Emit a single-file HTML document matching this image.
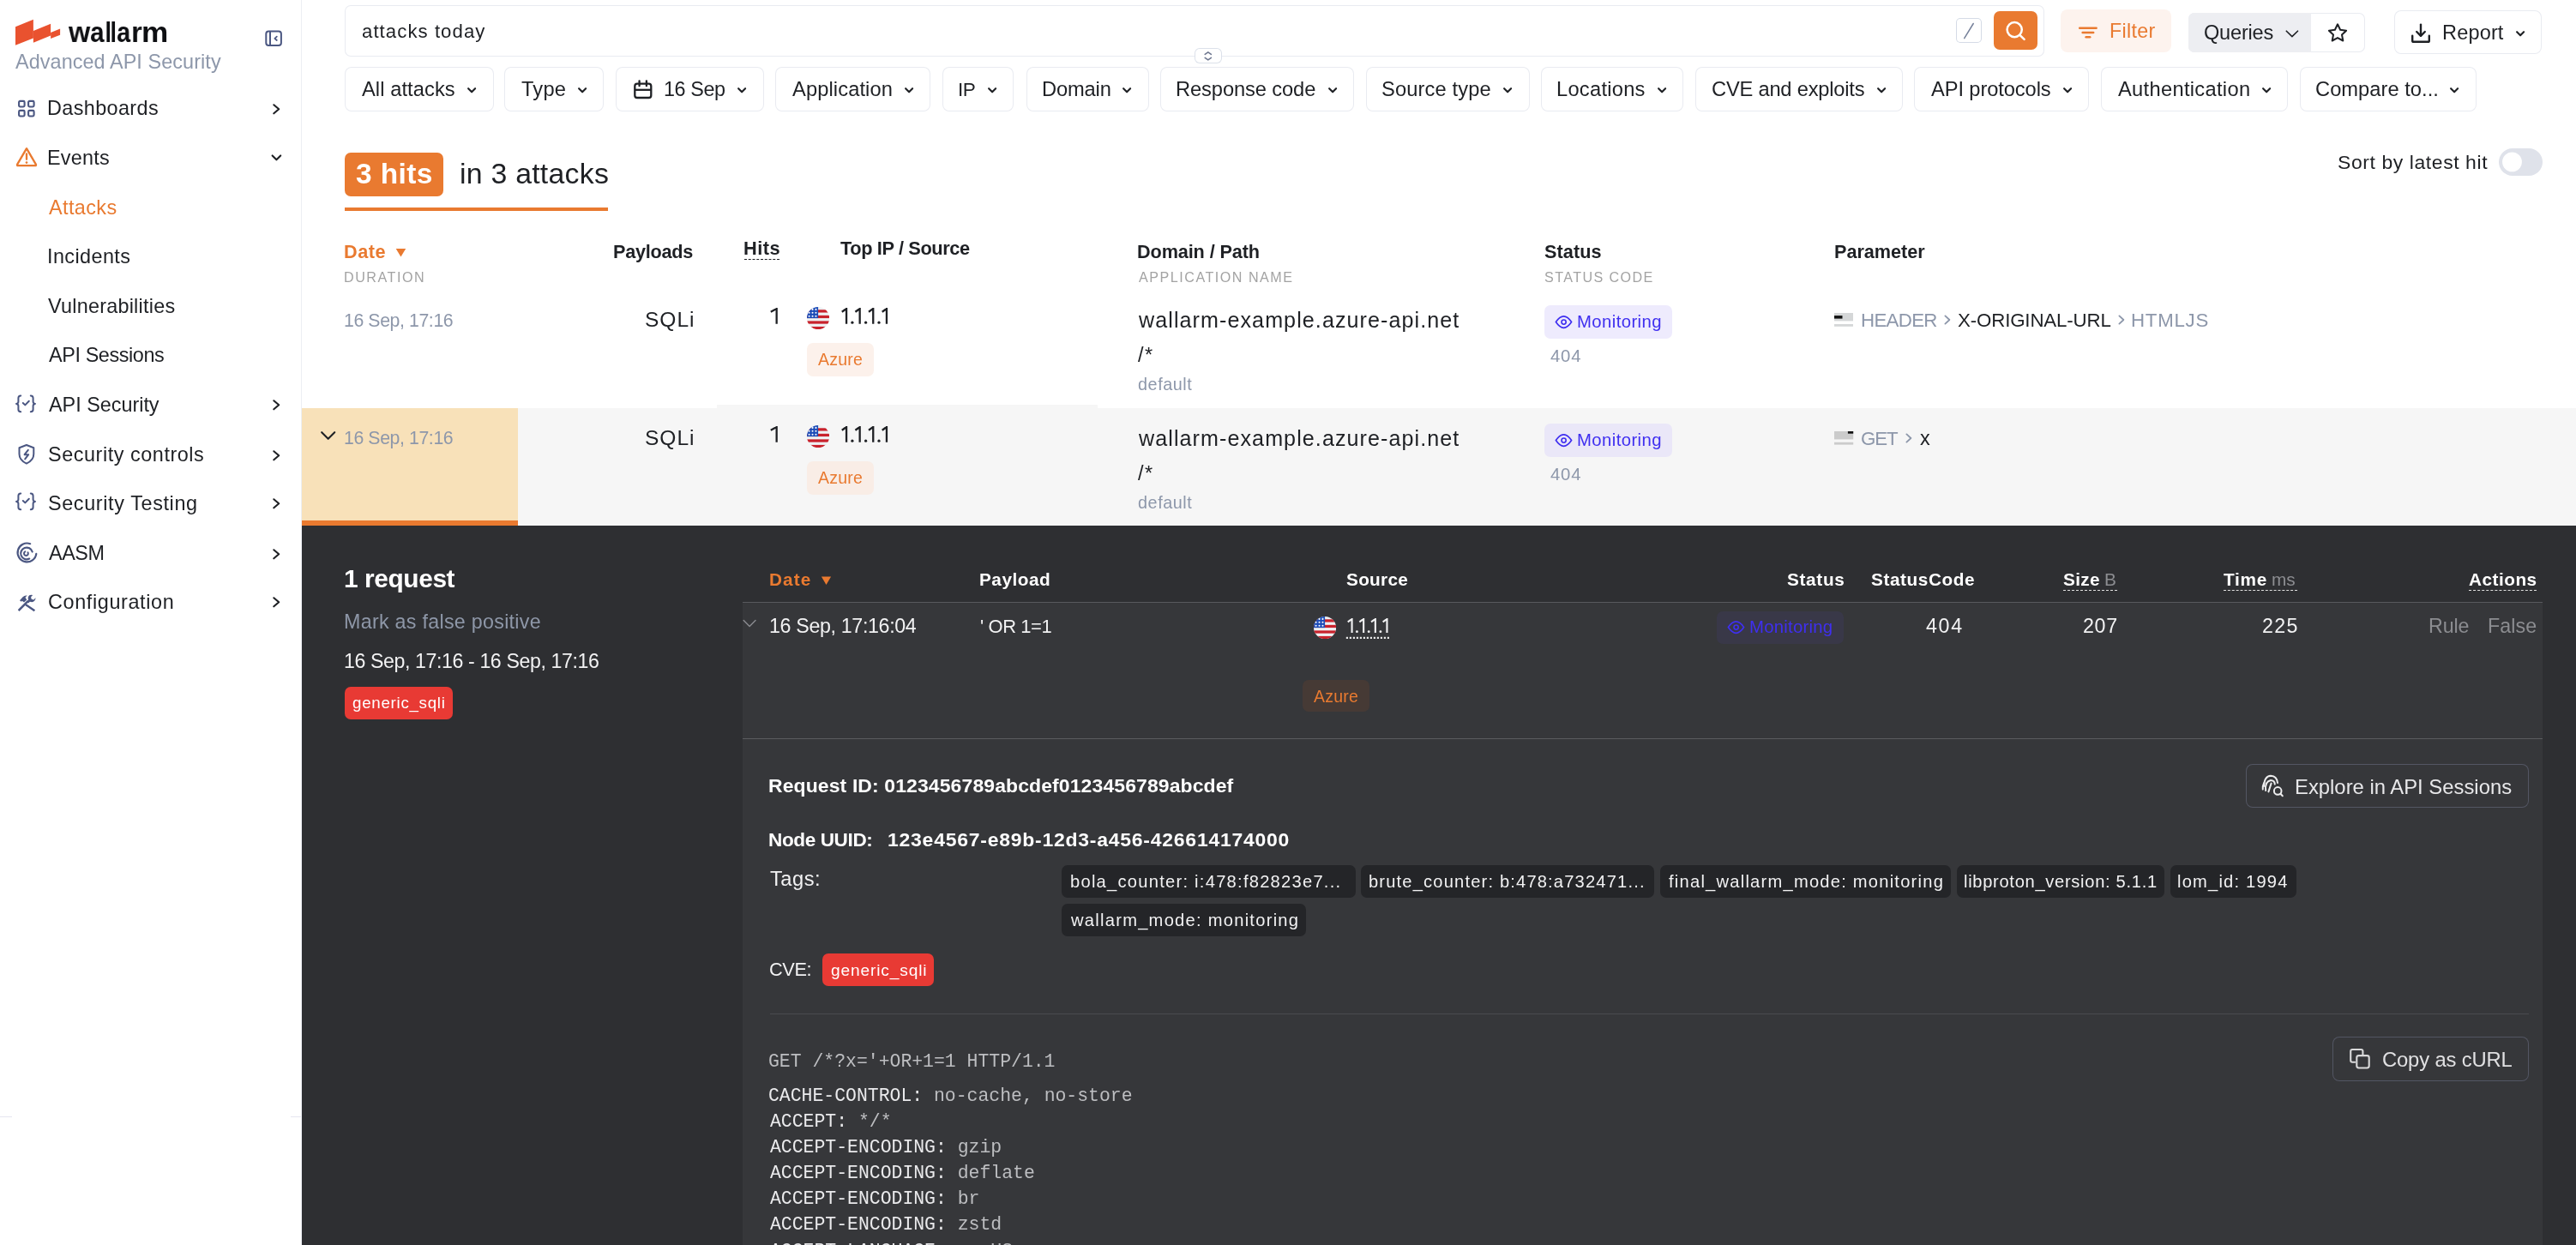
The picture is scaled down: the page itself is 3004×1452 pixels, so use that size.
<!DOCTYPE html>
<html><head><meta charset="utf-8"><style>
html,body{margin:0;padding:0;}
body{width:3004px;height:1452px;overflow:hidden;position:relative;background:#fff;font-family:"Liberation Sans",sans-serif;}
.a{position:absolute;}
.t{position:absolute;white-space:pre;will-change:transform;}
</style></head><body>
<div class="a" style="left:351.00px;top:0.00px;width:1.00px;height:1452.00px;background:#ECEEF3;"></div>
<div class="a" style="left:0.00px;top:1302.00px;width:14.00px;height:1.00px;background:#E6E6F0;"></div>
<div class="a" style="left:339.00px;top:1302.00px;width:12.00px;height:1.00px;background:#E6E6F0;"></div>
<svg class="a" style="left:0px;top:0px;" width="80" height="60" viewBox="0 0 80 60" fill="none"><polygon fill="#E9522F" points="18,31.2 38.9,22.85 38.9,44.4 18,52.7"/><polygon fill="#E9522F" points="38.9,36 59.1,27.7 59.1,41.5 38.9,49.8"/><polygon fill="#E9522F" points="59.1,37.9 70.1,33.4 70.1,40.8 59.1,45"/></svg>
<div class="t" style="left:80.41px;top:18px;font-size:34.000px;line-height:38px;color:#0E0F12;transform:scaleX(0.9537);transform-origin:-0.11px 0;font-weight:700;">w</div>
<div class="t" style="left:105.08px;top:18px;font-size:34.000px;line-height:38px;color:#0E0F12;transform:scaleX(0.8658);transform-origin:1.02px 0;font-weight:700;">a</div>
<div class="t" style="left:121.92px;top:18px;font-size:34.000px;line-height:38px;color:#0E0F12;transform:scaleX(0.7747);transform-origin:2.38px 0;font-weight:700;">l</div>
<div class="t" style="left:128.42px;top:18px;font-size:34.000px;line-height:38px;color:#0E0F12;transform:scaleX(0.7963);transform-origin:2.38px 0;font-weight:700;">l</div>
<div class="t" style="left:135.88px;top:18px;font-size:34.000px;line-height:38px;color:#0E0F12;transform:scaleX(0.8437);transform-origin:1.02px 0;font-weight:700;">a</div>
<div class="t" style="left:152.83px;top:18px;font-size:34.000px;line-height:38px;color:#0E0F12;transform:scaleX(0.9495);transform-origin:2.27px 0;font-weight:700;">r</div>
<div class="t" style="left:164.93px;top:18px;font-size:34.000px;line-height:38px;color:#0E0F12;transform:scaleX(1.0333);transform-origin:2.27px 0;font-weight:700;">m</div>
<div class="t" style="left:18.12px;top:59px;font-size:23.401px;line-height:26px;color:#8D97AA;letter-spacing:0.084px;">Advanced API Security</div>
<svg class="a" style="left:308px;top:34px;" width="22" height="22" viewBox="0 0 22 22" fill="none"><rect x="2.3" y="2.4" width="17.6" height="16.6" rx="3" stroke="#4B5782" stroke-width="2"/><line x1="7" y1="2.4" x2="7" y2="19" stroke="#4B5782" stroke-width="2"/><polyline points="14.8,8.6 12.4,10.8 14.8,13" stroke="#4B5782" stroke-width="1.8" fill="none" stroke-linecap="round" stroke-linejoin="round"/></svg>
<div class="t" style="left:55.35px;top:113px;font-size:23.401px;line-height:26px;color:#1E2024;letter-spacing:0.389px;">Dashboards</div>
<div class="t" style="left:57.22px;top:459px;font-size:23.401px;line-height:26px;color:#1E2024;letter-spacing:-0.012px;">API Security</div>
<div class="t" style="left:56.21px;top:517px;font-size:23.401px;line-height:26px;color:#1E2024;letter-spacing:0.557px;">Security controls</div>
<div class="t" style="left:56.21px;top:574px;font-size:23.401px;line-height:26px;color:#1E2024;letter-spacing:0.627px;">Security Testing</div>
<div class="t" style="left:57.22px;top:632px;font-size:23.374px;line-height:26px;color:#1E2024;letter-spacing:-0.400px;">AASM</div>
<div class="t" style="left:56.13px;top:689px;font-size:23.401px;line-height:26px;color:#1E2024;letter-spacing:0.633px;">Configuration</div>
<div class="t" style="left:55.35px;top:171px;font-size:23.401px;line-height:26px;color:#1E2024;letter-spacing:0.230px;">Events</div>
<svg class="a" style="left:316px;top:120px;" width="12" height="14" viewBox="0 0 12 14" fill="none"><polyline points="3.3,2.3 9.2,7.3 3.3,12.3" stroke="#1E2024" stroke-width="2.1" fill="none" stroke-linecap="round" stroke-linejoin="round"/></svg>
<svg class="a" style="left:316px;top:465px;" width="12" height="14" viewBox="0 0 12 14" fill="none"><polyline points="3.3,2.3 9.2,7.3 3.3,12.3" stroke="#1E2024" stroke-width="2.1" fill="none" stroke-linecap="round" stroke-linejoin="round"/></svg>
<svg class="a" style="left:316px;top:524px;" width="12" height="14" viewBox="0 0 12 14" fill="none"><polyline points="3.3,2.3 9.2,7.3 3.3,12.3" stroke="#1E2024" stroke-width="2.1" fill="none" stroke-linecap="round" stroke-linejoin="round"/></svg>
<svg class="a" style="left:316px;top:580px;" width="12" height="14" viewBox="0 0 12 14" fill="none"><polyline points="3.3,2.3 9.2,7.3 3.3,12.3" stroke="#1E2024" stroke-width="2.1" fill="none" stroke-linecap="round" stroke-linejoin="round"/></svg>
<svg class="a" style="left:316px;top:639px;" width="12" height="14" viewBox="0 0 12 14" fill="none"><polyline points="3.3,2.3 9.2,7.3 3.3,12.3" stroke="#1E2024" stroke-width="2.1" fill="none" stroke-linecap="round" stroke-linejoin="round"/></svg>
<svg class="a" style="left:316px;top:695px;" width="12" height="14" viewBox="0 0 12 14" fill="none"><polyline points="3.3,2.3 9.2,7.3 3.3,12.3" stroke="#1E2024" stroke-width="2.1" fill="none" stroke-linecap="round" stroke-linejoin="round"/></svg>
<svg class="a" style="left:315px;top:178px;" width="14" height="12" viewBox="0 0 14 12" fill="none"><polyline points="2.6,3.4 7.4,8.3 12.2,3.4" stroke="#1E2024" stroke-width="2.1" fill="none" stroke-linecap="round" stroke-linejoin="round"/></svg>
<div class="t" style="left:56.52px;top:229px;font-size:23.401px;line-height:26px;color:#E97A30;letter-spacing:0.397px;">Attacks</div>
<div class="t" style="left:55.12px;top:286px;font-size:23.401px;line-height:26px;color:#1E2024;letter-spacing:0.420px;">Incidents</div>
<div class="t" style="left:56.44px;top:344px;font-size:23.401px;line-height:26px;color:#1E2024;letter-spacing:0.240px;">Vulnerabilities</div>
<div class="t" style="left:56.72px;top:401px;font-size:23.401px;line-height:26px;color:#1E2024;letter-spacing:-0.393px;">API Sessions</div>
<svg class="a" style="left:20px;top:116px;" width="22" height="22" viewBox="0 0 22 22" fill="none"><rect x="2.1" y="1.9" width="6.5" height="6.6" rx="1.4" stroke="#4B5782" stroke-width="2.1"/><rect x="2.1" y="12.9" width="6.5" height="6.6" rx="1.4" stroke="#4B5782" stroke-width="2.1"/><rect x="13.1" y="1.9" width="6.5" height="6.6" rx="1.4" stroke="#4B5782" stroke-width="2.1"/><rect x="13.1" y="12.9" width="6.5" height="6.6" rx="1.4" stroke="#4B5782" stroke-width="2.1"/></svg>
<svg class="a" style="left:17px;top:170px;" width="28" height="26" viewBox="0 0 28 26" fill="none"><path d="M14 3.2 L3.2 21.6 Q2.4 23.2 4.2 23.2 L23.8 23.2 Q25.6 23.2 24.8 21.6 Z" stroke="#E97A30" stroke-width="2.3" stroke-linejoin="round" fill="none"/><line x1="14" y1="9.5" x2="14" y2="15.8" stroke="#E97A30" stroke-width="2.3" stroke-linecap="round"/><circle cx="14" cy="19.6" r="1.35" fill="#E97A30"/></svg>
<svg class="a" style="left:16px;top:459px;" width="30" height="24" viewBox="0 0 30 24" fill="none"><path d="M8.2 2.5 Q5.4 2.5 5.4 5.3 L5.4 9.5 Q5.4 11.6 3 11.9 Q5.4 12.2 5.4 14.3 L5.4 18.5 Q5.4 21.3 8.2 21.3" stroke="#4B5782" stroke-width="2" fill="none" stroke-linecap="round" stroke-linejoin="round"/><path d="M19.8 2.5 Q22.6 2.5 22.6 5.3 L22.6 9.5 Q22.6 11.6 25 11.9 Q22.6 12.2 22.6 14.3 L22.6 18.5 Q22.6 21.3 19.8 21.3" stroke="#4B5782" stroke-width="2" fill="none" stroke-linecap="round" stroke-linejoin="round"/><polyline points="10.8,11 13.3,13.4 17.8,8.8" stroke="#4B5782" stroke-width="2" fill="none" stroke-linecap="round" stroke-linejoin="round"/></svg>
<svg class="a" style="left:16px;top:573px;" width="30" height="24" viewBox="0 0 30 24" fill="none"><path d="M8.2 2.5 Q5.4 2.5 5.4 5.3 L5.4 9.5 Q5.4 11.6 3 11.9 Q5.4 12.2 5.4 14.3 L5.4 18.5 Q5.4 21.3 8.2 21.3" stroke="#4B5782" stroke-width="2" fill="none" stroke-linecap="round" stroke-linejoin="round"/><path d="M19.8 2.5 Q22.6 2.5 22.6 5.3 L22.6 9.5 Q22.6 11.6 25 11.9 Q22.6 12.2 22.6 14.3 L22.6 18.5 Q22.6 21.3 19.8 21.3" stroke="#4B5782" stroke-width="2" fill="none" stroke-linecap="round" stroke-linejoin="round"/><polyline points="10.8,11 13.3,13.4 17.8,8.8" stroke="#4B5782" stroke-width="2" fill="none" stroke-linecap="round" stroke-linejoin="round"/></svg>
<svg class="a" style="left:19px;top:516px;" width="24" height="28" viewBox="0 0 24 28" fill="none"><path d="M11.9 3 L20.3 6.2 L20.3 13.5 Q20.3 20.8 11.9 24.6 Q3.5 20.8 3.5 13.5 L3.5 6.2 Z" stroke="#4B5782" stroke-width="2" fill="none" stroke-linejoin="round"/><polyline points="13.8,8.8 9.6,14.2 14.2,14.2 10.2,19.4" stroke="#4B5782" stroke-width="2" fill="none" stroke-linecap="round" stroke-linejoin="round"/></svg>
<svg class="a" style="left:17px;top:631px;" width="28" height="28" viewBox="0 0 28 28" fill="none"><path d="M18.2 3.2 A10.9 10.9 0 1 0 25.3 14.8" stroke="#4B5782" stroke-width="2.2" fill="none" stroke-linecap="round"/><path d="M17.2 20.6 A6.9 6.9 0 1 1 20.7 12.5" stroke="#4B5782" stroke-width="2.2" fill="none" stroke-linecap="round"/><path d="M12.3 12.4 A2.4 2.4 0 1 0 15.5 13.3" stroke="#4B5782" stroke-width="2" fill="none" stroke-linecap="round"/></svg>
<svg class="a" style="left:19px;top:691px;" width="24" height="24" viewBox="0 0 24 24" fill="none"><line x1="3.5" y1="20.2" x2="13.2" y2="10.5" stroke="#4B5782" stroke-width="2.4" stroke-linecap="square"/><line x1="11.8" y1="14.8" x2="20.4" y2="20.6" stroke="#4B5782" stroke-width="2.4" stroke-linecap="square"/><path d="M4 9.3 L7.6 5.3 Q9.8 3 12.6 3.6 L10.5 5.8 L12.2 8.4 L9 11.4 L6.8 9.8 L5.9 10.8 Z" fill="#4B5782"/><path d="M15.2 3.3 Q12.8 5.8 14.2 9 L12.4 11 L14 12.6 L15.9 10.8 Q19.3 12.2 21.4 9.6 Q22.6 8 22.5 6.2 L20.3 8.4 L17.7 7.8 L17.1 5.3 L19.2 3.1 Q17.1 2.4 15.2 3.3 Z" fill="#4B5782"/></svg>
<div class="a" style="left:402.40px;top:6.00px;width:1981.60px;height:59.60px;background:#fff;border-radius:7px;box-shadow:inset 0 0 0 1px #E9EBF1;"></div>
<div class="t" style="left:421.64px;top:24px;font-size:22.207px;line-height:25px;color:#1E2024;letter-spacing:1.055px;">attacks today</div>
<div class="a" style="left:2281.20px;top:21.20px;width:29.40px;height:29.10px;background:#fff;border-radius:5px;box-shadow:inset 0 0 0 1px #D5DBE6;"></div>
<svg class="a" style="left:2281px;top:21px;" width="30" height="30" viewBox="0 0 30 30" fill="none"><line x1="20.2" y1="6.5" x2="9.7" y2="23.7" stroke="#76819A" stroke-width="1.5" stroke-linecap="round"/></svg>
<div class="a" style="left:2325.00px;top:13.00px;width:51.00px;height:44.70px;background:#E97A30;border-radius:7px;"></div>
<svg class="a" style="left:2325px;top:13px;" width="51" height="45" viewBox="0 0 51 45" fill="none"><circle cx="24.2" cy="21.6" r="8.6" stroke="#fff" stroke-width="2.5"/><line x1="30.4" y1="27.9" x2="35.6" y2="32.8" stroke="#fff" stroke-width="2.5" stroke-linecap="round"/></svg>
<div class="a" style="left:1393.10px;top:56.10px;width:31.60px;height:18.40px;background:#fff;border-radius:6px;box-shadow:inset 0 0 0 1px #DCE1EA;"></div>
<svg class="a" style="left:1393px;top:56px;" width="32" height="19" viewBox="0 0 32 19" fill="none"><polyline points="12.2,7.3 15.8,4.8 19.4,7.3" stroke="#6F7890" stroke-width="1.6" fill="none" stroke-linecap="round" stroke-linejoin="round"/><polyline points="12.2,11.4 15.8,13.9 19.4,11.4" stroke="#6F7890" stroke-width="1.6" fill="none" stroke-linecap="round" stroke-linejoin="round"/></svg>
<div class="a" style="left:2403.20px;top:10.90px;width:129.30px;height:50.60px;background:#FDF3EE;border-radius:8px;"></div>
<svg class="a" style="left:2420px;top:26px;" width="30" height="22" viewBox="0 0 30 22" fill="none"><line x1="5.2" y1="6.8" x2="24.6" y2="6.8" stroke="#E97A30" stroke-width="2.5" stroke-linecap="round"/><line x1="8.6" y1="12" x2="21.2" y2="12" stroke="#E97A30" stroke-width="2.5" stroke-linecap="round"/><line x1="12.6" y1="17.3" x2="17.2" y2="17.3" stroke="#E97A30" stroke-width="2.5" stroke-linecap="round"/></svg>
<div class="t" style="left:2460.06px;top:23px;font-size:23.256px;line-height:26px;color:#E97A30;letter-spacing:0.324px;">Filter</div>
<div class="a" style="left:2552.10px;top:15.30px;width:206.40px;height:45.40px;background:#fff;border-radius:7px;box-shadow:inset 0 0 0 1px #E9EBF1;"></div>
<div class="a" style="left:2552.10px;top:15.30px;width:142.80px;height:45.40px;background:#EDEEF2;border-radius:7px 0 0 7px;"></div>
<div class="t" style="left:2570.40px;top:25px;font-size:23.547px;line-height:26px;color:#1E2024;letter-spacing:-0.192px;">Queries</div>
<svg class="a" style="left:2664px;top:32px;" width="18" height="14" viewBox="0 0 18 14" fill="none"><polyline points="2.3,4.2 8.9,10.6 15.5,4.2" stroke="#1E2024" stroke-width="1.6" fill="none" stroke-linecap="round" stroke-linejoin="round"/></svg>
<svg class="a" style="left:2712px;top:25px;" width="28" height="28" viewBox="0 0 28 28" fill="none"><path d="M14 3.3 L17.1 9.8 L24.1 10.7 L19 15.5 L20.3 22.5 L14 19.1 L7.7 22.5 L9 15.5 L3.9 10.7 L10.9 9.8 Z" stroke="#1E2024" stroke-width="2" fill="none" stroke-linejoin="round"/></svg>
<div class="a" style="left:2791.60px;top:12.20px;width:172.90px;height:51.20px;background:#fff;border-radius:8px;box-shadow:inset 0 0 0 1px #E9EBF1;"></div>
<svg class="a" style="left:2810px;top:26px;" width="26" height="26" viewBox="0 0 26 26" fill="none"><path d="M3.2 15.8 L3.2 21.4 Q3.2 22.8 4.6 22.8 L21.4 22.8 Q22.8 22.8 22.8 21.4 L22.8 15.8" stroke="#1E2024" stroke-width="2.4" fill="none" stroke-linecap="round" stroke-linejoin="round"/><line x1="13" y1="2.6" x2="13" y2="15.6" stroke="#1E2024" stroke-width="2.4" stroke-linecap="round"/><polyline points="8.2,11 13,15.8 17.8,11" stroke="#1E2024" stroke-width="2.4" fill="none" stroke-linecap="round" stroke-linejoin="round"/></svg>
<div class="t" style="left:2847.84px;top:25px;font-size:23.547px;line-height:26px;color:#1E2024;letter-spacing:0.156px;">Report</div>
<svg class="a" style="left:2932.5px;top:33.5px;" width="13" height="11" viewBox="0 0 13 11" fill="none"><polyline points="2.1,3.2 6.1,7.3 10.1,3.2" stroke="#1E2024" stroke-width="2.1" fill="none" stroke-linecap="round" stroke-linejoin="round"/></svg>
<div class="a" style="left:402.40px;top:78.20px;width:173.30px;height:51.40px;background:#fff;border-radius:8px;box-shadow:inset 0 0 0 1px #E9EBF1;"></div>
<div class="t" style="left:422.32px;top:91px;font-size:23.692px;line-height:26px;color:#1E2024;letter-spacing:0.069px;">All attacks</div>
<svg class="a" style="left:544.1px;top:100px;" width="13" height="11" viewBox="0 0 13 11" fill="none"><polyline points="2.1,3.2 6.1,7.3 10.1,3.2" stroke="#1E2024" stroke-width="2.1" fill="none" stroke-linecap="round" stroke-linejoin="round"/></svg>
<div class="a" style="left:588.30px;top:78.20px;width:116.00px;height:51.40px;background:#fff;border-radius:8px;box-shadow:inset 0 0 0 1px #E9EBF1;"></div>
<div class="t" style="left:607.75px;top:91px;font-size:23.692px;line-height:26px;color:#1E2024;letter-spacing:0.189px;">Type</div>
<svg class="a" style="left:672.6999999999999px;top:100px;" width="13" height="11" viewBox="0 0 13 11" fill="none"><polyline points="2.1,3.2 6.1,7.3 10.1,3.2" stroke="#1E2024" stroke-width="2.1" fill="none" stroke-linecap="round" stroke-linejoin="round"/></svg>
<div class="a" style="left:717.50px;top:78.20px;width:173.10px;height:51.40px;background:#fff;border-radius:8px;box-shadow:inset 0 0 0 1px #E9EBF1;"></div>
<svg class="a" style="left:736px;top:91px;" width="27" height="27" viewBox="0 0 27 27" fill="none"><rect x="4.3" y="6.7" width="19" height="16.3" rx="2.8" stroke="#1E2024" stroke-width="2.3"/><line x1="4.3" y1="13.8" x2="23.3" y2="13.8" stroke="#1E2024" stroke-width="2.3"/><line x1="9.6" y1="3.4" x2="9.6" y2="9.2" stroke="#1E2024" stroke-width="2.3" stroke-linecap="round"/><line x1="17.9" y1="3.4" x2="17.9" y2="9.2" stroke="#1E2024" stroke-width="2.3" stroke-linecap="round"/></svg>
<div class="t" style="left:773.91px;top:91px;font-size:23.377px;line-height:26px;color:#1E2024;letter-spacing:-0.400px;">16 Sep</div>
<svg class="a" style="left:859.0px;top:100px;" width="13" height="11" viewBox="0 0 13 11" fill="none"><polyline points="2.1,3.2 6.1,7.3 10.1,3.2" stroke="#1E2024" stroke-width="2.1" fill="none" stroke-linecap="round" stroke-linejoin="round"/></svg>
<div class="a" style="left:904.40px;top:78.20px;width:180.90px;height:51.40px;background:#fff;border-radius:8px;box-shadow:inset 0 0 0 1px #E9EBF1;"></div>
<div class="t" style="left:924.32px;top:91px;font-size:23.692px;line-height:26px;color:#1E2024;letter-spacing:0.103px;">Application</div>
<svg class="a" style="left:1053.7px;top:100px;" width="13" height="11" viewBox="0 0 13 11" fill="none"><polyline points="2.1,3.2 6.1,7.3 10.1,3.2" stroke="#1E2024" stroke-width="2.1" fill="none" stroke-linecap="round" stroke-linejoin="round"/></svg>
<div class="a" style="left:1099.30px;top:78.20px;width:83.20px;height:51.40px;background:#fff;border-radius:8px;box-shadow:inset 0 0 0 1px #E9EBF1;"></div>
<div class="t" style="left:1117.19px;top:92px;font-size:22.594px;line-height:25px;color:#1E2024;letter-spacing:-0.400px;">IP</div>
<svg class="a" style="left:1150.9px;top:100px;" width="13" height="11" viewBox="0 0 13 11" fill="none"><polyline points="2.1,3.2 6.1,7.3 10.1,3.2" stroke="#1E2024" stroke-width="2.1" fill="none" stroke-linecap="round" stroke-linejoin="round"/></svg>
<div class="a" style="left:1196.50px;top:78.20px;width:143.00px;height:51.40px;background:#fff;border-radius:8px;box-shadow:inset 0 0 0 1px #E9EBF1;"></div>
<div class="t" style="left:1214.53px;top:91px;font-size:23.692px;line-height:26px;color:#1E2024;letter-spacing:-0.141px;">Domain</div>
<svg class="a" style="left:1307.9px;top:100px;" width="13" height="11" viewBox="0 0 13 11" fill="none"><polyline points="2.1,3.2 6.1,7.3 10.1,3.2" stroke="#1E2024" stroke-width="2.1" fill="none" stroke-linecap="round" stroke-linejoin="round"/></svg>
<div class="a" style="left:1353.30px;top:78.20px;width:226.00px;height:51.40px;background:#fff;border-radius:8px;box-shadow:inset 0 0 0 1px #E9EBF1;"></div>
<div class="t" style="left:1371.33px;top:91px;font-size:23.692px;line-height:26px;color:#1E2024;letter-spacing:-0.105px;">Response code</div>
<svg class="a" style="left:1547.7px;top:100px;" width="13" height="11" viewBox="0 0 13 11" fill="none"><polyline points="2.1,3.2 6.1,7.3 10.1,3.2" stroke="#1E2024" stroke-width="2.1" fill="none" stroke-linecap="round" stroke-linejoin="round"/></svg>
<div class="a" style="left:1592.50px;top:78.20px;width:191.20px;height:51.40px;background:#fff;border-radius:8px;box-shadow:inset 0 0 0 1px #E9EBF1;"></div>
<div class="t" style="left:1611.39px;top:91px;font-size:23.692px;line-height:26px;color:#1E2024;letter-spacing:0.130px;">Source type</div>
<svg class="a" style="left:1752.1000000000001px;top:100px;" width="13" height="11" viewBox="0 0 13 11" fill="none"><polyline points="2.1,3.2 6.1,7.3 10.1,3.2" stroke="#1E2024" stroke-width="2.1" fill="none" stroke-linecap="round" stroke-linejoin="round"/></svg>
<div class="a" style="left:1797.30px;top:78.20px;width:166.20px;height:51.40px;background:#fff;border-radius:8px;box-shadow:inset 0 0 0 1px #E9EBF1;"></div>
<div class="t" style="left:1815.33px;top:91px;font-size:23.692px;line-height:26px;color:#1E2024;letter-spacing:0.255px;">Locations</div>
<svg class="a" style="left:1931.9px;top:100px;" width="13" height="11" viewBox="0 0 13 11" fill="none"><polyline points="2.1,3.2 6.1,7.3 10.1,3.2" stroke="#1E2024" stroke-width="2.1" fill="none" stroke-linecap="round" stroke-linejoin="round"/></svg>
<div class="a" style="left:1977.20px;top:78.20px;width:242.10px;height:51.40px;background:#fff;border-radius:8px;box-shadow:inset 0 0 0 1px #E9EBF1;"></div>
<div class="t" style="left:1996.02px;top:91px;font-size:23.692px;line-height:26px;color:#1E2024;letter-spacing:-0.211px;">CVE and exploits</div>
<svg class="a" style="left:2187.7000000000003px;top:100px;" width="13" height="11" viewBox="0 0 13 11" fill="none"><polyline points="2.1,3.2 6.1,7.3 10.1,3.2" stroke="#1E2024" stroke-width="2.1" fill="none" stroke-linecap="round" stroke-linejoin="round"/></svg>
<div class="a" style="left:2232.20px;top:78.20px;width:204.30px;height:51.40px;background:#fff;border-radius:8px;box-shadow:inset 0 0 0 1px #E9EBF1;"></div>
<div class="t" style="left:2252.12px;top:91px;font-size:23.692px;line-height:26px;color:#1E2024;letter-spacing:-0.103px;">API protocols</div>
<svg class="a" style="left:2404.9px;top:100px;" width="13" height="11" viewBox="0 0 13 11" fill="none"><polyline points="2.1,3.2 6.1,7.3 10.1,3.2" stroke="#1E2024" stroke-width="2.1" fill="none" stroke-linecap="round" stroke-linejoin="round"/></svg>
<div class="a" style="left:2450.20px;top:78.20px;width:218.10px;height:51.40px;background:#fff;border-radius:8px;box-shadow:inset 0 0 0 1px #E9EBF1;"></div>
<div class="t" style="left:2470.12px;top:91px;font-size:23.692px;line-height:26px;color:#1E2024;letter-spacing:0.304px;">Authentication</div>
<svg class="a" style="left:2636.7000000000003px;top:100px;" width="13" height="11" viewBox="0 0 13 11" fill="none"><polyline points="2.1,3.2 6.1,7.3 10.1,3.2" stroke="#1E2024" stroke-width="2.1" fill="none" stroke-linecap="round" stroke-linejoin="round"/></svg>
<div class="a" style="left:2681.60px;top:78.20px;width:206.10px;height:51.40px;background:#fff;border-radius:8px;box-shadow:inset 0 0 0 1px #E9EBF1;"></div>
<div class="t" style="left:2700.42px;top:91px;font-size:23.692px;line-height:26px;color:#1E2024;letter-spacing:0.027px;">Compare to...</div>
<svg class="a" style="left:2856.1px;top:100px;" width="13" height="11" viewBox="0 0 13 11" fill="none"><polyline points="2.1,3.2 6.1,7.3 10.1,3.2" stroke="#1E2024" stroke-width="2.1" fill="none" stroke-linecap="round" stroke-linejoin="round"/></svg>
<div class="a" style="left:402.10px;top:178.10px;width:114.90px;height:50.80px;background:#E97A30;border-radius:7px;"></div>
<div class="t" style="left:415.22px;top:184px;font-size:33.430px;line-height:37px;color:#fff;letter-spacing:0.411px;font-weight:700;">3 hits</div>
<div class="t" style="left:535.54px;top:183px;font-size:33.866px;line-height:38px;color:#1E2024;letter-spacing:0.232px;">in 3 attacks</div>
<div class="a" style="left:402.00px;top:241.80px;width:307.20px;height:4.20px;background:#E97A30;"></div>
<div class="t" style="left:2725.53px;top:176px;font-size:22.965px;line-height:26px;color:#1E2024;letter-spacing:0.586px;">Sort by latest hit</div>
<div class="a" style="left:2914.20px;top:173.00px;width:50.70px;height:31.80px;background:#DFE2EA;border-radius:16px;"></div>
<svg class="a" style="left:2914px;top:173px;" width="51" height="32" viewBox="0 0 51 32" fill="none"><circle cx="15.5" cy="15.9" r="11.4" fill="#fff"/></svg>
<div class="t" style="left:400.86px;top:281px;font-size:21.657px;line-height:25px;color:#E97A30;letter-spacing:0.514px;font-weight:700;">Date</div>
<svg class="a" style="left:460px;top:288px;" width="15" height="13" viewBox="0 0 15 13" fill="none"><polygon points="1.7,2 13.2,2 7.45,11.4" fill="#E97A30"/></svg>
<div class="t" style="left:715.16px;top:281px;font-size:21.657px;line-height:25px;color:#1E2024;letter-spacing:-0.252px;font-weight:700;">Payloads</div>
<div class="t" style="left:866.95px;top:277px;font-size:21.802px;line-height:25px;color:#1E2024;letter-spacing:0.440px;font-weight:700;">Hits</div>
<div class="a" style="left:868px;top:302px;width:41px;height:0;border-top:1.5px dashed #1E2024;"></div>
<div class="t" style="left:979.88px;top:277px;font-size:21.802px;line-height:25px;color:#1E2024;letter-spacing:-0.389px;font-weight:700;">Top IP / Source</div>
<div class="t" style="left:1326.16px;top:281px;font-size:21.657px;line-height:25px;color:#1E2024;letter-spacing:-0.103px;font-weight:700;">Domain / Path</div>
<div class="t" style="left:1801.25px;top:281px;font-size:21.657px;line-height:25px;color:#1E2024;letter-spacing:0.084px;font-weight:700;">Status</div>
<div class="t" style="left:2138.86px;top:281px;font-size:21.657px;line-height:25px;color:#1E2024;letter-spacing:-0.021px;font-weight:700;">Parameter</div>
<div class="t" style="left:401.46px;top:314px;font-size:16.134px;line-height:18px;color:#A3A3A3;letter-spacing:1.514px;">DURATION</div>
<div class="t" style="left:1327.55px;top:314px;font-size:16.134px;line-height:18px;color:#A3A3A3;letter-spacing:1.503px;">APPLICATION NAME</div>
<div class="t" style="left:1801.15px;top:314px;font-size:16.134px;line-height:18px;color:#A3A3A3;letter-spacing:1.401px;">STATUS CODE</div>
<div class="a" style="left:352.00px;top:476.00px;width:2652.00px;height:137.00px;background:#F6F6F6;"></div>
<div class="a" style="left:836.00px;top:472.00px;width:444.00px;height:4.00px;background:#F6F6F6;"></div>
<div class="a" style="left:352.00px;top:476.00px;width:252.00px;height:131.00px;background:#F8E1B9;"></div>
<div class="a" style="left:352.00px;top:607.00px;width:252.00px;height:6.00px;background:#E97A30;"></div>
<div class="t" style="left:400.67px;top:362px;font-size:21.288px;line-height:24px;color:#8D97AA;letter-spacing:-0.400px;">16 Sep, 17:16</div>
<div class="t" style="left:751.75px;top:359px;font-size:24.564px;line-height:27px;color:#1E2024;letter-spacing:0.984px;">SQLi</div>
<svg class="a" style="left:895.6px;top:357px;" width="15" height="24" viewBox="0 0 15 24" fill="none"><path d="M2.80 6.70 L9.65 3.04 M9.65 2.00 L9.65 20.80" stroke="#1E2024" stroke-width="2.3" fill="none" stroke-linecap="butt" stroke-linejoin="miter"/></svg>
<svg class="a" style="left:940.9px;top:357.8px;" width="26.2" height="26.2" viewBox="0 0 26.2 26.2" fill="none"><defs><clipPath id="c940357"><circle cx="13.1" cy="13.1" r="13.1"/></clipPath></defs><g clip-path="url(#c940357)"><rect width="26.2" height="26.2" fill="#EEF1F3"/><rect x="0" y="3.27" width="26.2" height="3.27" fill="#C9222C"/><rect x="0" y="9.82" width="26.2" height="3.27" fill="#C9222C"/><rect x="0" y="16.38" width="26.2" height="3.27" fill="#C9222C"/><rect x="0" y="22.93" width="26.2" height="3.27" fill="#C9222C"/><rect x="0" y="0" width="13.10" height="13.10" fill="#1E4DB8"/><circle cx="2.62" cy="2.88" r="1.05" fill="#fff"/><circle cx="2.62" cy="6.81" r="1.05" fill="#fff"/><circle cx="2.62" cy="10.74" r="1.05" fill="#fff"/><circle cx="6.55" cy="2.88" r="1.05" fill="#fff"/><circle cx="6.55" cy="6.81" r="1.05" fill="#fff"/><circle cx="6.55" cy="10.74" r="1.05" fill="#fff"/><circle cx="10.48" cy="2.88" r="1.05" fill="#fff"/><circle cx="10.48" cy="6.81" r="1.05" fill="#fff"/><circle cx="10.48" cy="10.74" r="1.05" fill="#fff"/></g></svg>
<svg class="a" style="left:978.6px;top:357px;" width="60" height="24" viewBox="0 0 60 24" fill="none"><path d="M2.80 6.70 L8.05 3.04 M8.05 2.00 L8.05 20.80" stroke="#1E2024" stroke-width="2.3" fill="none" stroke-linecap="butt" stroke-linejoin="miter"/><path d="M18.41 6.70 L23.65 3.04 M23.65 2.00 L23.65 20.80" stroke="#1E2024" stroke-width="2.3" fill="none" stroke-linecap="butt" stroke-linejoin="miter"/><path d="M34.00 6.70 L39.25 3.04 M39.25 2.00 L39.25 20.80" stroke="#1E2024" stroke-width="2.3" fill="none" stroke-linecap="butt" stroke-linejoin="miter"/><path d="M49.70 6.70 L54.95 3.04 M54.95 2.00 L54.95 20.80" stroke="#1E2024" stroke-width="2.3" fill="none" stroke-linecap="butt" stroke-linejoin="miter"/><circle cx="14.90" cy="19.20" r="1.6" fill="#1E2024"/><circle cx="30.60" cy="19.20" r="1.6" fill="#1E2024"/><circle cx="46.00" cy="19.20" r="1.6" fill="#1E2024"/></svg>
<div class="a" style="left:941.00px;top:399.90px;width:78.10px;height:38.90px;background:#FCF1EB;border-radius:7px;"></div>
<div class="t" style="left:954.44px;top:408px;font-size:19.477px;line-height:22px;color:#E97A30;letter-spacing:0.227px;">Azure</div>
<div class="t" style="left:1327.90px;top:359px;font-size:25.103px;line-height:28px;color:#1E2024;letter-spacing:1.079px;">wallarm-example.azure-api.net</div>
<div class="t" style="left:1327.20px;top:401px;font-size:23.500px;line-height:26px;color:#1E2024;">/</div>
<div class="t" style="left:1335.01px;top:401px;font-size:23.500px;line-height:26px;color:#1E2024;">*</div>
<div class="t" style="left:1326.74px;top:437px;font-size:19.800px;line-height:22px;color:#8D97AA;letter-spacing:0.565px;">default</div>
<div class="a" style="left:1801.10px;top:356.00px;width:148.60px;height:38.70px;background:#EEEBFD;border-radius:7px;"></div>
<svg class="a" style="left:1812px;top:367px;" width="23" height="17" viewBox="0 0 23 17" fill="none"><path d="M2.4 8.6 Q11.5 -4.8 20.6 8.6 Q11.5 22 2.4 8.6 Z" stroke="#3F2FF0" stroke-width="1.7" fill="none" stroke-linejoin="round"/><circle cx="11.6" cy="8.6" r="2.6" stroke="#3F2FF0" stroke-width="1.6"/></svg>
<div class="t" style="left:1838.70px;top:364px;font-size:20.349px;line-height:22px;color:#3F2FF0;letter-spacing:0.403px;">Monitoring</div>
<div class="t" style="left:1807.93px;top:404px;font-size:20.349px;line-height:22px;color:#8D97AA;letter-spacing:0.801px;">404</div>
<svg class="a" style="left:2139px;top:365px;" width="23" height="16" viewBox="0 0 23 16" fill="none"><rect x="0" y="0" width="22" height="9.4" fill="#D5D7D8"/><rect x="0" y="3.1" width="9.5" height="3.5" fill="#111"/><rect x="0" y="13" width="22" height="2.8" fill="#D5D7D8"/></svg>
<div class="t" style="left:2169.64px;top:361px;font-size:22.300px;line-height:25px;color:#8D97AA;letter-spacing:-0.704px;">HEADER</div>
<svg class="a" style="left:2266px;top:366px;" width="10" height="14" viewBox="0 0 10 14" fill="none"><polyline points="2.4,2.4 7.4,7 2.4,11.6" stroke="#8D97AA" stroke-width="1.8" fill="none" stroke-linecap="round" stroke-linejoin="round"/></svg>
<div class="t" style="left:2283.08px;top:361px;font-size:22.300px;line-height:25px;color:#1E2024;letter-spacing:-0.151px;">X-ORIGINAL-URL</div>
<svg class="a" style="left:2469px;top:366px;" width="10" height="14" viewBox="0 0 10 14" fill="none"><polyline points="2.4,2.4 7.4,7 2.4,11.6" stroke="#8D97AA" stroke-width="1.8" fill="none" stroke-linecap="round" stroke-linejoin="round"/></svg>
<div class="t" style="left:2485.24px;top:361px;font-size:22.300px;line-height:25px;color:#8D97AA;letter-spacing:0.730px;">HTMLJS</div>
<div class="t" style="left:400.67px;top:499px;font-size:21.288px;line-height:24px;color:#8D97AA;letter-spacing:-0.400px;">16 Sep, 17:16</div>
<div class="t" style="left:751.75px;top:497px;font-size:24.564px;line-height:27px;color:#1E2024;letter-spacing:0.984px;">SQLi</div>
<svg class="a" style="left:895.6px;top:495px;" width="15" height="24" viewBox="0 0 15 24" fill="none"><path d="M2.80 6.70 L9.65 3.04 M9.65 2.00 L9.65 20.80" stroke="#1E2024" stroke-width="2.3" fill="none" stroke-linecap="butt" stroke-linejoin="miter"/></svg>
<svg class="a" style="left:940.9px;top:495.8px;" width="26.2" height="26.2" viewBox="0 0 26.2 26.2" fill="none"><defs><clipPath id="c940495"><circle cx="13.1" cy="13.1" r="13.1"/></clipPath></defs><g clip-path="url(#c940495)"><rect width="26.2" height="26.2" fill="#EEF1F3"/><rect x="0" y="3.27" width="26.2" height="3.27" fill="#C9222C"/><rect x="0" y="9.82" width="26.2" height="3.27" fill="#C9222C"/><rect x="0" y="16.38" width="26.2" height="3.27" fill="#C9222C"/><rect x="0" y="22.93" width="26.2" height="3.27" fill="#C9222C"/><rect x="0" y="0" width="13.10" height="13.10" fill="#1E4DB8"/><circle cx="2.62" cy="2.88" r="1.05" fill="#fff"/><circle cx="2.62" cy="6.81" r="1.05" fill="#fff"/><circle cx="2.62" cy="10.74" r="1.05" fill="#fff"/><circle cx="6.55" cy="2.88" r="1.05" fill="#fff"/><circle cx="6.55" cy="6.81" r="1.05" fill="#fff"/><circle cx="6.55" cy="10.74" r="1.05" fill="#fff"/><circle cx="10.48" cy="2.88" r="1.05" fill="#fff"/><circle cx="10.48" cy="6.81" r="1.05" fill="#fff"/><circle cx="10.48" cy="10.74" r="1.05" fill="#fff"/></g></svg>
<svg class="a" style="left:978.6px;top:495px;" width="60" height="24" viewBox="0 0 60 24" fill="none"><path d="M2.80 6.70 L8.05 3.04 M8.05 2.00 L8.05 20.80" stroke="#1E2024" stroke-width="2.3" fill="none" stroke-linecap="butt" stroke-linejoin="miter"/><path d="M18.41 6.70 L23.65 3.04 M23.65 2.00 L23.65 20.80" stroke="#1E2024" stroke-width="2.3" fill="none" stroke-linecap="butt" stroke-linejoin="miter"/><path d="M34.00 6.70 L39.25 3.04 M39.25 2.00 L39.25 20.80" stroke="#1E2024" stroke-width="2.3" fill="none" stroke-linecap="butt" stroke-linejoin="miter"/><path d="M49.70 6.70 L54.95 3.04 M54.95 2.00 L54.95 20.80" stroke="#1E2024" stroke-width="2.3" fill="none" stroke-linecap="butt" stroke-linejoin="miter"/><circle cx="14.90" cy="19.20" r="1.6" fill="#1E2024"/><circle cx="30.60" cy="19.20" r="1.6" fill="#1E2024"/><circle cx="46.00" cy="19.20" r="1.6" fill="#1E2024"/></svg>
<div class="a" style="left:941.00px;top:537.90px;width:78.10px;height:38.90px;background:#F9EDE6;border-radius:7px;"></div>
<div class="t" style="left:954.44px;top:546px;font-size:19.477px;line-height:22px;color:#E97A30;letter-spacing:0.227px;">Azure</div>
<div class="t" style="left:1327.90px;top:497px;font-size:25.103px;line-height:28px;color:#1E2024;letter-spacing:1.079px;">wallarm-example.azure-api.net</div>
<div class="t" style="left:1327.20px;top:539px;font-size:23.500px;line-height:26px;color:#1E2024;">/</div>
<div class="t" style="left:1335.01px;top:539px;font-size:23.500px;line-height:26px;color:#1E2024;">*</div>
<div class="t" style="left:1326.74px;top:575px;font-size:19.800px;line-height:22px;color:#8D97AA;letter-spacing:0.565px;">default</div>
<div class="a" style="left:1801.10px;top:494.00px;width:148.60px;height:38.70px;background:#EAE7F8;border-radius:7px;"></div>
<svg class="a" style="left:1812px;top:505px;" width="23" height="17" viewBox="0 0 23 17" fill="none"><path d="M2.4 8.6 Q11.5 -4.8 20.6 8.6 Q11.5 22 2.4 8.6 Z" stroke="#3F2FF0" stroke-width="1.7" fill="none" stroke-linejoin="round"/><circle cx="11.6" cy="8.6" r="2.6" stroke="#3F2FF0" stroke-width="1.6"/></svg>
<div class="t" style="left:1838.70px;top:502px;font-size:20.349px;line-height:22px;color:#3F2FF0;letter-spacing:0.403px;">Monitoring</div>
<div class="t" style="left:1807.93px;top:542px;font-size:20.349px;line-height:22px;color:#8D97AA;letter-spacing:0.801px;">404</div>
<svg class="a" style="left:2139px;top:503px;" width="23" height="16" viewBox="0 0 23 16" fill="none"><rect x="0" y="0" width="22.2" height="9.4" fill="#CBCBCB"/><rect x="15.9" y="0" width="6.3" height="2.7" fill="#111"/><rect x="0" y="12.8" width="22.2" height="2.8" fill="#CBCBCB"/></svg>
<div class="t" style="left:2169.79px;top:499px;font-size:22.300px;line-height:25px;color:#8D97AA;letter-spacing:-1.127px;">GET</div>
<svg class="a" style="left:2221px;top:504px;" width="10" height="14" viewBox="0 0 10 14" fill="none"><polyline points="2.4,2.4 7.4,7 2.4,11.6" stroke="#8D97AA" stroke-width="1.8" fill="none" stroke-linecap="round" stroke-linejoin="round"/></svg>
<div class="t" style="left:2238.79px;top:498px;font-size:23.485px;line-height:26px;color:#1E2024;">x</div>
<div class="a" style="left:374.00px;top:500.00px;width:19.00px;height:16.00px;"></div>
<svg class="a" style="left:373px;top:501px;" width="20" height="16" viewBox="0 0 20 16" fill="none"><polyline points="2.2,3.2 9.7,10.8 17.2,3.2" stroke="#1E2024" stroke-width="2.1" fill="none" stroke-linecap="round" stroke-linejoin="round"/></svg>
<div class="a" style="left:352.00px;top:613.00px;width:2652.00px;height:839.00px;background:#2E2F32;"></div>
<div class="a" style="left:866.00px;top:702.00px;width:2099.00px;height:750.00px;background:#36373A;"></div>
<div class="a" style="left:866.00px;top:701.50px;width:2099.00px;height:1.30px;background:#58595D;"></div>
<div class="t" style="left:400.81px;top:658px;font-size:29.863px;line-height:33px;color:#fff;letter-spacing:-0.400px;font-weight:700;">1 request</div>
<div class="t" style="left:400.76px;top:712px;font-size:23.256px;line-height:26px;color:#8E97A8;letter-spacing:0.291px;">Mark as false positive</div>
<div class="t" style="left:400.92px;top:758px;font-size:23.171px;line-height:26px;color:#F2F2F3;letter-spacing:-0.400px;">16 Sep, 17:16 - 16 Sep, 17:16</div>
<div class="a" style="left:402.10px;top:801.10px;width:125.90px;height:37.60px;background:#E83A34;border-radius:7px;"></div>
<div class="t" style="left:411.09px;top:809px;font-size:18.759px;line-height:21px;color:#fff;letter-spacing:0.711px;">generic_sqli</div>
<div class="t" style="left:896.71px;top:664px;font-size:20.785px;line-height:23px;color:#E97A30;letter-spacing:1.082px;font-weight:700;">Date</div>
<svg class="a" style="left:956px;top:671px;" width="15" height="12" viewBox="0 0 15 12" fill="none"><polygon points="1.9,1.6 13.1,1.6 7.5,10.9" fill="#E97A30"/></svg>
<div class="t" style="left:1142.11px;top:664px;font-size:20.785px;line-height:23px;color:#fff;letter-spacing:0.499px;font-weight:700;">Payload</div>
<div class="t" style="left:1569.98px;top:664px;font-size:20.785px;line-height:23px;color:#fff;letter-spacing:0.291px;font-weight:700;">Source</div>
<div class="t" style="left:2083.58px;top:664px;font-size:20.785px;line-height:23px;color:#fff;letter-spacing:0.664px;font-weight:700;">Status</div>
<div class="t" style="left:2181.98px;top:664px;font-size:20.785px;line-height:23px;color:#fff;letter-spacing:0.580px;font-weight:700;">StatusCode</div>
<div class="t" style="left:2406.08px;top:664px;font-size:20.785px;line-height:23px;color:#fff;letter-spacing:0.349px;font-weight:700;">Size</div>
<div class="t" style="left:2454.27px;top:664px;font-size:20.800px;line-height:23px;color:#8C8D91;">B</div>
<div class="a" style="left:2406px;top:688px;width:63px;height:0;border-top:1.5px dashed #E0E0E0;"></div>
<div class="t" style="left:2593.29px;top:664px;font-size:20.785px;line-height:23px;color:#fff;letter-spacing:0.750px;font-weight:700;">Time</div>
<div class="t" style="left:2649.21px;top:664px;font-size:20.800px;line-height:23px;color:#8C8D91;">ms</div>
<div class="a" style="left:2593px;top:688px;width:86px;height:0;border-top:1.5px dashed #E0E0E0;"></div>
<div class="t" style="left:2879.15px;top:664px;font-size:20.785px;line-height:23px;color:#fff;letter-spacing:0.496px;font-weight:700;">Actions</div>
<div class="a" style="left:2879px;top:688px;width:79px;height:0;border-top:1.5px dashed #E0E0E0;"></div>
<svg class="a" style="left:865px;top:721px;" width="18" height="12" viewBox="0 0 18 12" fill="none"><polyline points="2.2,2.4 9.1,9.4 16,2.4" stroke="#8A8B90" stroke-width="1.4" fill="none" stroke-linecap="round" stroke-linejoin="round"/></svg>
<div class="t" style="left:897.12px;top:717px;font-size:23.256px;line-height:26px;color:#F2F2F3;letter-spacing:-0.357px;">16 Sep, 17:16:04</div>
<div class="t" style="left:1143.20px;top:718px;font-size:21.934px;line-height:25px;color:#F2F2F3;letter-spacing:-0.400px;">&#x27; OR 1=1</div>
<svg class="a" style="left:1531.9px;top:718.8px;" width="26.2" height="26.2" viewBox="0 0 26.2 26.2" fill="none"><defs><clipPath id="c1531718"><circle cx="13.1" cy="13.1" r="13.1"/></clipPath></defs><g clip-path="url(#c1531718)"><rect width="26.2" height="26.2" fill="#EEF1F3"/><rect x="0" y="3.27" width="26.2" height="3.27" fill="#C9222C"/><rect x="0" y="9.82" width="26.2" height="3.27" fill="#C9222C"/><rect x="0" y="16.38" width="26.2" height="3.27" fill="#C9222C"/><rect x="0" y="22.93" width="26.2" height="3.27" fill="#C9222C"/><rect x="0" y="0" width="13.10" height="13.10" fill="#1E4DB8"/><circle cx="2.62" cy="2.88" r="1.05" fill="#fff"/><circle cx="2.62" cy="6.81" r="1.05" fill="#fff"/><circle cx="2.62" cy="10.74" r="1.05" fill="#fff"/><circle cx="6.55" cy="2.88" r="1.05" fill="#fff"/><circle cx="6.55" cy="6.81" r="1.05" fill="#fff"/><circle cx="6.55" cy="10.74" r="1.05" fill="#fff"/><circle cx="10.48" cy="2.88" r="1.05" fill="#fff"/><circle cx="10.48" cy="6.81" r="1.05" fill="#fff"/><circle cx="10.48" cy="10.74" r="1.05" fill="#fff"/></g></svg>
<svg class="a" style="left:1568.7px;top:719px;" width="53" height="22" viewBox="0 0 53 22" fill="none"><path d="M2.73 6.28 L7.55 2.95 M7.55 2.00 L7.55 19.10" stroke="#F2F2F3" stroke-width="2.1" fill="none" stroke-linecap="butt" stroke-linejoin="miter"/><path d="M16.33 6.28 L21.15 2.95 M21.15 2.00 L21.15 19.10" stroke="#F2F2F3" stroke-width="2.1" fill="none" stroke-linecap="butt" stroke-linejoin="miter"/><path d="M30.03 6.28 L34.85 2.95 M34.85 2.00 L34.85 19.10" stroke="#F2F2F3" stroke-width="2.1" fill="none" stroke-linecap="butt" stroke-linejoin="miter"/><path d="M43.63 6.28 L48.45 2.95 M48.45 2.00 L48.45 19.10" stroke="#F2F2F3" stroke-width="2.1" fill="none" stroke-linecap="butt" stroke-linejoin="miter"/><circle cx="13.40" cy="17.65" r="1.45" fill="#F2F2F3"/><circle cx="27.20" cy="17.65" r="1.45" fill="#F2F2F3"/><circle cx="40.90" cy="17.65" r="1.45" fill="#F2F2F3"/></svg>
<svg class="a" style="left:1569px;top:742px;" width="52" height="4" viewBox="0 0 52 4" fill="none"><rect x="0.8" y="0.8" width="2.2" height="2.2" fill="#E8E8E8"/><rect x="4.8" y="0.8" width="2.2" height="2.2" fill="#E8E8E8"/><rect x="8.8" y="0.8" width="2.2" height="2.2" fill="#E8E8E8"/><rect x="12.8" y="0.8" width="2.2" height="2.2" fill="#E8E8E8"/><rect x="16.8" y="0.8" width="2.2" height="2.2" fill="#E8E8E8"/><rect x="20.8" y="0.8" width="2.2" height="2.2" fill="#E8E8E8"/><rect x="24.8" y="0.8" width="2.2" height="2.2" fill="#E8E8E8"/><rect x="28.8" y="0.8" width="2.2" height="2.2" fill="#E8E8E8"/><rect x="32.8" y="0.8" width="2.2" height="2.2" fill="#E8E8E8"/><rect x="36.8" y="0.8" width="2.2" height="2.2" fill="#E8E8E8"/><rect x="40.8" y="0.8" width="2.2" height="2.2" fill="#E8E8E8"/><rect x="44.8" y="0.8" width="2.2" height="2.2" fill="#E8E8E8"/><rect x="48.8" y="0.8" width="2.2" height="2.2" fill="#E8E8E8"/></svg>
<div class="a" style="left:2002.10px;top:713.00px;width:147.60px;height:37.90px;background:#393848;border-radius:7px;"></div>
<svg class="a" style="left:2013px;top:723px;" width="23" height="17" viewBox="0 0 23 17" fill="none"><path d="M2.4 8.6 Q11.5 -4.8 20.6 8.6 Q11.5 22 2.4 8.6 Z" stroke="#3F2FF0" stroke-width="1.7" fill="none" stroke-linejoin="round"/><circle cx="11.6" cy="8.6" r="2.6" stroke="#3F2FF0" stroke-width="1.6"/></svg>
<div class="t" style="left:2040.20px;top:720px;font-size:20.349px;line-height:22px;color:#3F2FF0;letter-spacing:0.236px;">Monitoring</div>
<div class="t" style="left:2246.16px;top:717px;font-size:23.256px;line-height:26px;color:#F2F2F3;letter-spacing:1.652px;">404</div>
<div class="t" style="left:2429.04px;top:717px;font-size:23.256px;line-height:26px;color:#F2F2F3;letter-spacing:0.694px;">207</div>
<div class="t" style="left:2638.04px;top:717px;font-size:23.256px;line-height:26px;color:#F2F2F3;letter-spacing:1.267px;">225</div>
<div class="t" style="left:2832.46px;top:717px;font-size:23.256px;line-height:26px;color:#8C8D91;letter-spacing:-0.095px;">Rule</div>
<div class="t" style="left:2900.56px;top:717px;font-size:23.256px;line-height:26px;color:#8C8D91;letter-spacing:0.087px;">False</div>
<div class="a" style="left:1518.90px;top:793.00px;width:77.90px;height:37.30px;background:#463A35;border-radius:7px;"></div>
<div class="t" style="left:1532.34px;top:801px;font-size:19.477px;line-height:22px;color:#E97A30;letter-spacing:0.227px;">Azure</div>
<div class="a" style="left:866.00px;top:860.50px;width:2099.00px;height:1.20px;background:#5A5B5F;"></div>
<div class="t" style="left:896.07px;top:903px;font-size:22.965px;line-height:26px;color:#fff;letter-spacing:0.118px;font-weight:700;">Request ID: 0123456789abcdef0123456789abcdef</div>
<div class="t" style="left:896.09px;top:967px;font-size:22.583px;line-height:25px;color:#fff;letter-spacing:-0.400px;font-weight:700;">Node UUID:</div>
<div class="t" style="left:1034.85px;top:966px;font-size:22.965px;line-height:26px;color:#fff;letter-spacing:0.766px;font-weight:700;">123e4567-e89b-12d3-a456-426614174000</div>
<div class="t" style="left:898.25px;top:1012px;font-size:23.692px;line-height:26px;color:#F2F2F3;letter-spacing:0.490px;">Tags:</div>
<div class="a" style="left:1238.40px;top:1009.10px;width:342.40px;height:38.30px;background:#242528;border-radius:7px;"></div>
<div class="t" style="left:1247.72px;top:1017px;font-size:20.138px;line-height:22px;color:#F2F2F3;letter-spacing:1.255px;">bola_counter: i:478:f82823e7...</div>
<div class="a" style="left:1587.20px;top:1009.10px;width:342.30px;height:38.30px;background:#242528;border-radius:7px;"></div>
<div class="t" style="left:1596.22px;top:1017px;font-size:20.138px;line-height:22px;color:#F2F2F3;letter-spacing:1.169px;">brute_counter: b:478:a732471...</div>
<div class="a" style="left:1936.00px;top:1009.10px;width:339.00px;height:38.30px;background:#242528;border-radius:7px;"></div>
<div class="t" style="left:1945.63px;top:1017px;font-size:20.138px;line-height:22px;color:#F2F2F3;letter-spacing:1.232px;">final_wallarm_mode: monitoring</div>
<div class="a" style="left:2281.50px;top:1009.10px;width:242.20px;height:38.30px;background:#242528;border-radius:7px;"></div>
<div class="t" style="left:2289.56px;top:1017px;font-size:20.138px;line-height:22px;color:#F2F2F3;letter-spacing:0.691px;">libproton_version: 5.1.1</div>
<div class="a" style="left:2531.00px;top:1009.10px;width:147.00px;height:38.30px;background:#242528;border-radius:7px;"></div>
<div class="t" style="left:2539.46px;top:1017px;font-size:20.138px;line-height:22px;color:#F2F2F3;letter-spacing:1.193px;">lom_id: 1994</div>
<div class="a" style="left:1238.40px;top:1054.10px;width:285.10px;height:38.30px;background:#242528;border-radius:7px;"></div>
<div class="t" style="left:1249.00px;top:1062px;font-size:20.138px;line-height:22px;color:#F2F2F3;letter-spacing:1.261px;">wallarm_mode: monitoring</div>
<div class="t" style="left:897.31px;top:1118px;font-size:21.748px;line-height:25px;color:#F2F2F3;letter-spacing:-0.400px;">CVE:</div>
<div class="a" style="left:959.10px;top:1112.00px;width:129.90px;height:38.10px;background:#E83A34;border-radius:7px;"></div>
<div class="t" style="left:968.57px;top:1121px;font-size:19.172px;line-height:21px;color:#fff;letter-spacing:0.851px;">generic_sqli</div>
<div class="a" style="left:2619.00px;top:891.00px;width:330.00px;height:51.00px;border-radius:8px;box-shadow:inset 0 0 0 1px #535663;"></div>
<svg class="a" style="left:2636px;top:903px;" width="30" height="28" viewBox="0 0 30 28" fill="none"><g stroke="#EDEDEE" stroke-width="2" fill="none" stroke-linecap="round"><path d="M4 14 Q4.6 2.2 12 1.8 Q19.2 2.2 20 10"/><path d="M6.2 19 Q4.8 8.4 12 7 Q16.6 7.2 16.8 11.6"/><path d="M12.6 10.6 L9.4 20.4"/><path d="M2.8 17.6 Q2.4 13.6 4 10.4"/><circle cx="20.2" cy="19.4" r="4.3"/><path d="M23.4 22.8 L25.8 25.2"/></g></svg>
<div class="t" style="left:2676.41px;top:904px;font-size:23.837px;line-height:27px;color:#E8E8EA;letter-spacing:0.004px;">Explore in API Sessions</div>
<div class="a" style="left:897.60px;top:1181.60px;width:2051.40px;height:1.30px;background:#4A4B4F;"></div>
<div class="a" style="left:2720.00px;top:1209.00px;width:229.00px;height:52.00px;border-radius:8px;box-shadow:inset 0 0 0 1px #535663;"></div>
<svg class="a" style="left:2738px;top:1222px;" width="27" height="27" viewBox="0 0 27 27" fill="none"><g stroke="#D9D9DA" stroke-width="2.1" fill="none" stroke-linejoin="round" stroke-linecap="round"><path d="M8.3 16.7 L5.2 16.7 Q3.2 16.7 3.2 14.7 L3.2 4 Q3.2 2 5.2 2 L15.4 2 Q17.4 2 17.4 4 L17.4 8.3"/><rect x="10.3" y="9.1" width="14.4" height="14.4" rx="2.4"/></g></svg>
<div class="t" style="left:2777.81px;top:1222px;font-size:23.837px;line-height:27px;color:#E0E0E2;letter-spacing:-0.171px;">Copy as cURL</div>
<div class="t" style="left:896.38px;top:1226px;font-size:21.450px;line-height:24px;color:#BDBEC1;font-family:'Liberation Mono',monospace;">GET /*?x=&#x27;+OR+1=1 HTTP/1.1</div>
<div class="t" style="left:896.38px;top:1266px;font-size:21.450px;line-height:24px;color:#EAEAEC;font-family:'Liberation Mono',monospace;">CACHE-CONTROL: <span style="color:#BDBEC1">no-cache, no-store</span></div>
<div class="t" style="left:897.60px;top:1296px;font-size:21.450px;line-height:24px;color:#EAEAEC;font-family:'Liberation Mono',monospace;">ACCEPT: <span style="color:#BDBEC1">*/*</span></div>
<div class="t" style="left:897.60px;top:1326px;font-size:21.450px;line-height:24px;color:#EAEAEC;font-family:'Liberation Mono',monospace;">ACCEPT-ENCODING: <span style="color:#BDBEC1">gzip</span></div>
<div class="t" style="left:897.60px;top:1356px;font-size:21.450px;line-height:24px;color:#EAEAEC;font-family:'Liberation Mono',monospace;">ACCEPT-ENCODING: <span style="color:#BDBEC1">deflate</span></div>
<div class="t" style="left:897.60px;top:1386px;font-size:21.450px;line-height:24px;color:#EAEAEC;font-family:'Liberation Mono',monospace;">ACCEPT-ENCODING: <span style="color:#BDBEC1">br</span></div>
<div class="t" style="left:897.60px;top:1416px;font-size:21.450px;line-height:24px;color:#EAEAEC;font-family:'Liberation Mono',monospace;">ACCEPT-ENCODING: <span style="color:#BDBEC1">zstd</span></div>
<div class="t" style="left:897.60px;top:1447px;font-size:21.450px;line-height:24px;color:#EAEAEC;font-family:'Liberation Mono',monospace;">ACCEPT-LANGUAGE: <span style="color:#BDBEC1">en-US</span></div>
</body></html>
